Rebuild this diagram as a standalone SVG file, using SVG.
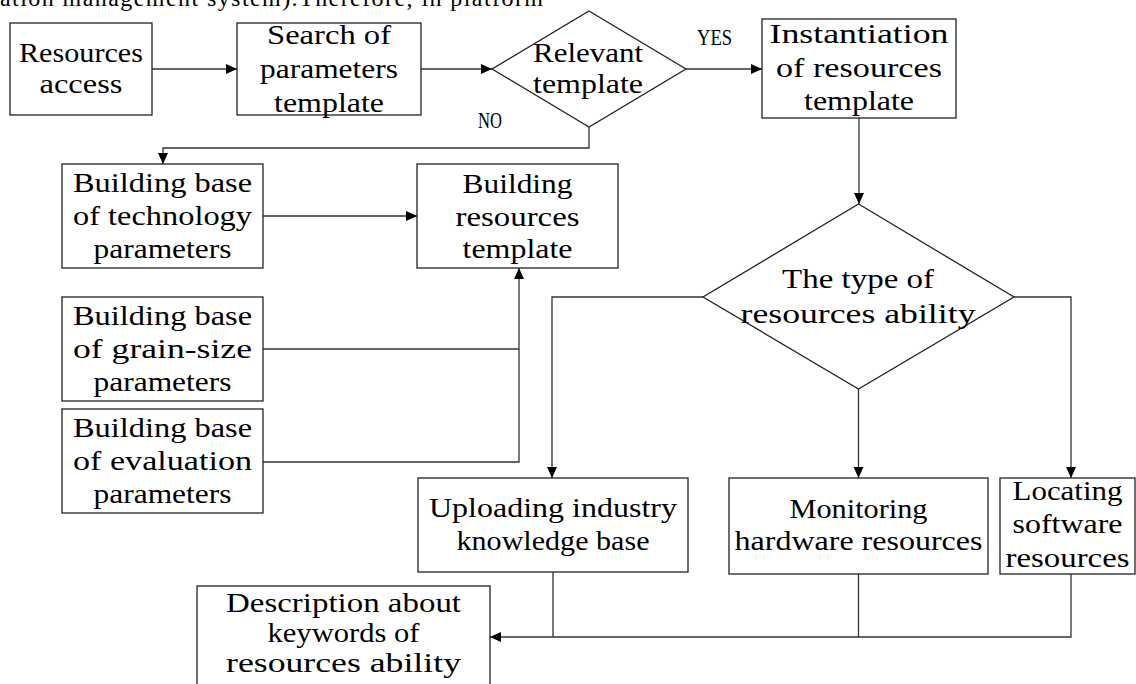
<svg xmlns="http://www.w3.org/2000/svg" width="1136" height="684" viewBox="0 0 1136 684">
<defs>
<marker id="ah" markerUnits="userSpaceOnUse" markerWidth="12" markerHeight="10" refX="11" refY="5" orient="auto">
<path d="M0,0 L11,5 L0,10 Z" fill="#000"/>
</marker>
<style>
.box{fill:#fff;stroke:#222;stroke-width:1.3}
.t{font-family:"Liberation Serif","Times New Roman",serif;font-size:28px;fill:#000;text-anchor:middle}
.lbl{font-family:"Liberation Serif","Times New Roman",serif;font-size:23px;fill:#000}
.c{fill:none;stroke:#333;stroke-width:1.3}
.top{font-family:"Liberation Serif","Times New Roman",serif;font-size:24px;fill:#000}
</style>
</defs>
<rect width="1136" height="684" fill="#fff"/>
<text class="top" x="0" y="6" textLength="543" lengthAdjust="spacing">ation management system).Therefore, in platform</text>

<g id="connectors">
<path class="c" d="M152,69 H237" marker-end="url(#ah)"/>
<path class="c" d="M421,69 H492" marker-end="url(#ah)"/>
<path class="c" d="M686,69 H762" marker-end="url(#ah)"/>
<path class="c" d="M589,127 V148 H163 V164" marker-end="url(#ah)"/>
<path class="c" d="M859,118 V204" marker-end="url(#ah)"/>
<path class="c" d="M263,216 H417" marker-end="url(#ah)"/>
<path class="c" d="M263,349 H519"/>
<path class="c" d="M263,462 H519 V268" marker-end="url(#ah)"/>
<path class="c" d="M703,297 H552 V478" marker-end="url(#ah)"/>
<path class="c" d="M858.5,389 V478" marker-end="url(#ah)"/>
<path class="c" d="M1014,297 H1071 V478" marker-end="url(#ah)"/>
<path class="c" d="M553,572 V637"/>
<path class="c" d="M858.5,574 V637"/>
<path class="c" d="M1071,574 V637 H490" marker-end="url(#ah)"/>
<text class="lbl" x="697" y="45" textLength="35" lengthAdjust="spacingAndGlyphs">YES</text>
<text class="lbl" x="478" y="128" textLength="24" lengthAdjust="spacingAndGlyphs">NO</text>
</g>

<g id="resources-access">
<rect class="box" x="10" y="23" width="142" height="92"/>
<text class="t" x="81" y="62" textLength="124" lengthAdjust="spacingAndGlyphs">Resources</text>
<text class="t" x="81" y="93" textLength="83" lengthAdjust="spacingAndGlyphs">access</text>
</g>

<g id="search-template">
<rect class="box" x="237" y="23" width="184" height="92"/>
<text class="t" x="329" y="44" textLength="124" lengthAdjust="spacingAndGlyphs">Search of</text>
<text class="t" x="329" y="78" textLength="138" lengthAdjust="spacingAndGlyphs">parameters</text>
<text class="t" x="329" y="112" textLength="110" lengthAdjust="spacingAndGlyphs">template</text>
</g>

<g id="relevant-template">
<polygon class="box" points="589,11 686,69 589,127 492,69"/>
<text class="t" x="588" y="62" textLength="110" lengthAdjust="spacingAndGlyphs">Relevant</text>
<text class="t" x="588" y="93" textLength="110" lengthAdjust="spacingAndGlyphs">template</text>
</g>

<g id="instantiation">
<rect class="box" x="762" y="19" width="194" height="99"/>
<text class="t" x="859" y="43" textLength="179" lengthAdjust="spacingAndGlyphs">Instantiation</text>
<text class="t" x="859" y="77" textLength="166" lengthAdjust="spacingAndGlyphs">of resources</text>
<text class="t" x="859" y="110" textLength="110" lengthAdjust="spacingAndGlyphs">template</text>
</g>

<g id="technology-base">
<rect class="box" x="62" y="164" width="201" height="104"/>
<text class="t" x="162.5" y="192" textLength="179" lengthAdjust="spacingAndGlyphs">Building base</text>
<text class="t" x="162.5" y="225" textLength="179" lengthAdjust="spacingAndGlyphs">of technology</text>
<text class="t" x="162.5" y="258" textLength="138" lengthAdjust="spacingAndGlyphs">parameters</text>
</g>

<g id="building-template">
<rect class="box" x="417" y="164" width="201" height="104"/>
<text class="t" x="517.5" y="193" textLength="110" lengthAdjust="spacingAndGlyphs">Building</text>
<text class="t" x="517.5" y="226" textLength="124" lengthAdjust="spacingAndGlyphs">resources</text>
<text class="t" x="517.5" y="258" textLength="110" lengthAdjust="spacingAndGlyphs">template</text>
</g>

<g id="grain-size-base">
<rect class="box" x="62" y="297" width="201" height="104"/>
<text class="t" x="162.5" y="325" textLength="179" lengthAdjust="spacingAndGlyphs">Building base</text>
<text class="t" x="162.5" y="358" textLength="179" lengthAdjust="spacingAndGlyphs">of grain-size</text>
<text class="t" x="162.5" y="391" textLength="138" lengthAdjust="spacingAndGlyphs">parameters</text>
</g>

<g id="evaluation-base">
<rect class="box" x="62" y="409" width="201" height="104"/>
<text class="t" x="162.5" y="437" textLength="179" lengthAdjust="spacingAndGlyphs">Building base</text>
<text class="t" x="162.5" y="470" textLength="179" lengthAdjust="spacingAndGlyphs">of evaluation</text>
<text class="t" x="162.5" y="503" textLength="138" lengthAdjust="spacingAndGlyphs">parameters</text>
</g>

<g id="ability-type">
<polygon class="box" points="858.5,204 1014,297 858.5,389 703,297"/>
<text class="t" x="858" y="288" textLength="152" lengthAdjust="spacingAndGlyphs">The type of</text>
<text class="t" x="858" y="323" textLength="235" lengthAdjust="spacingAndGlyphs">resources ability</text>
</g>

<g id="uploading">
<rect class="box" x="418" y="478" width="270" height="94"/>
<text class="t" x="553" y="517" textLength="248" lengthAdjust="spacingAndGlyphs">Uploading industry</text>
<text class="t" x="553" y="550" textLength="193" lengthAdjust="spacingAndGlyphs">knowledge base</text>
</g>

<g id="monitoring">
<rect class="box" x="729" y="478" width="259" height="96"/>
<text class="t" x="858.5" y="518" textLength="138" lengthAdjust="spacingAndGlyphs">Monitoring</text>
<text class="t" x="858.5" y="550" textLength="248" lengthAdjust="spacingAndGlyphs">hardware resources</text>
</g>

<g id="locating">
<rect class="box" x="1000" y="478" width="135" height="96"/>
<text class="t" x="1067.5" y="500" textLength="110" lengthAdjust="spacingAndGlyphs">Locating</text>
<text class="t" x="1067.5" y="533" textLength="110" lengthAdjust="spacingAndGlyphs">software</text>
<text class="t" x="1067.5" y="567" textLength="124" lengthAdjust="spacingAndGlyphs">resources</text>
</g>

<g id="description">
<rect class="box" x="197" y="586" width="293" height="110"/>
<text class="t" x="343.5" y="612" textLength="235" lengthAdjust="spacingAndGlyphs">Description about</text>
<text class="t" x="343.5" y="642" textLength="152" lengthAdjust="spacingAndGlyphs">keywords of</text>
<text class="t" x="343.5" y="672" textLength="235" lengthAdjust="spacingAndGlyphs">resources ability</text>
</g>
</svg>
